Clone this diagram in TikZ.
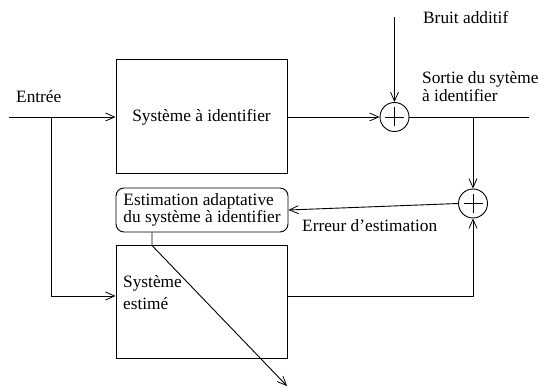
\documentclass[tikz,border=0pt]{standalone}
\usepackage{fontspec}
\setmainfont{Liberation Serif}
\usetikzlibrary{arrows.meta,calc}
\begin{document}
\begin{tikzpicture}[x=1pt,y=-1pt,
  every node/.style={font=\fontsize{17.3}{21}\selectfont, inner sep=0pt},
  sysbox/.style={draw, line width=1pt, minimum width=171pt, minimum height=114pt},
  sumnode/.style={draw, circle, line width=0.9pt, minimum size=29pt,
    path picture={\draw[line width=0.8pt] ([xshift=-9.5pt]path picture bounding box.center) -- ([xshift=9.5pt]path picture bounding box.center);
                  \draw[line width=0.8pt] ([yshift=-9.5pt]path picture bounding box.center) -- ([yshift=9.5pt]path picture bounding box.center);}},
  conn/.style={line width=0.9pt},
  arr/.style={conn, -{Straight Barb[length=9pt,width=8pt,line width=0.8pt]}},
  lbl/.style={anchor=base west}
]
\useasboundingbox (0,0) rectangle (539,387);

% boxes
\node[sysbox] (sys) at (201.5,117) {Système à identifier};
\node[sysbox, minimum height=113pt] (est) at (201.5,302.5) {};
\node[lbl] (esttxt1) at (123,288) {Système};
\node[lbl] (esttxt2) at (123,310) {estimé};
\node[draw, line width=0.9pt, rounded corners=8pt, minimum width=172pt, minimum height=44pt,
      align=left, font=\fontsize{17.3}{13}\selectfont] (adapt) at (202,210)
      {Estimation adaptative\\du système à identifier};

% summation nodes
\node[sumnode] (s1) at (394.5,117) {};
\node[sumnode] (s2) at (473,203.5) {};

% coordinates
\coordinate (in) at (9,117);
\coordinate (j1) at (51,117);
\coordinate (lo) at (0,296);
\coordinate (noise) at (394.5,17);
\coordinate (out) at (529,117);
\coordinate (j2) at (473,117);
\coordinate (tip) at (287,386);

% labels
\node[lbl] (lin) at (16,103) {Entrée};
\node[lbl] (lnoise) at (423,24) {Bruit additif};
\node[lbl] (lout1) at (422,84) {Sortie du sytème};
\node[lbl] (lout2) at (422,102) {à identifier};
\node[lbl] (lerr) at (302,232) {Erreur d’estimation};

% connectors
\draw[arr] (in) -- (sys.west);
\draw[arr] (j1) |- (est.west |- lo);
\draw[arr] (sys.east) -- (s1.west);
\draw[arr] (noise) -- (s1.north);
\draw[conn] (s1.east) -- (out);
\draw[arr] (j2) -- (s2.north);
\draw[arr] (est.east |- lo) -| (s2.south);
\draw[arr] (s2.west) -- (adapt.east);
\draw[arr] (adapt.south -| 152,0) -- (est.north -| 152,0) -- (tip);
\end{tikzpicture}
\end{document}
